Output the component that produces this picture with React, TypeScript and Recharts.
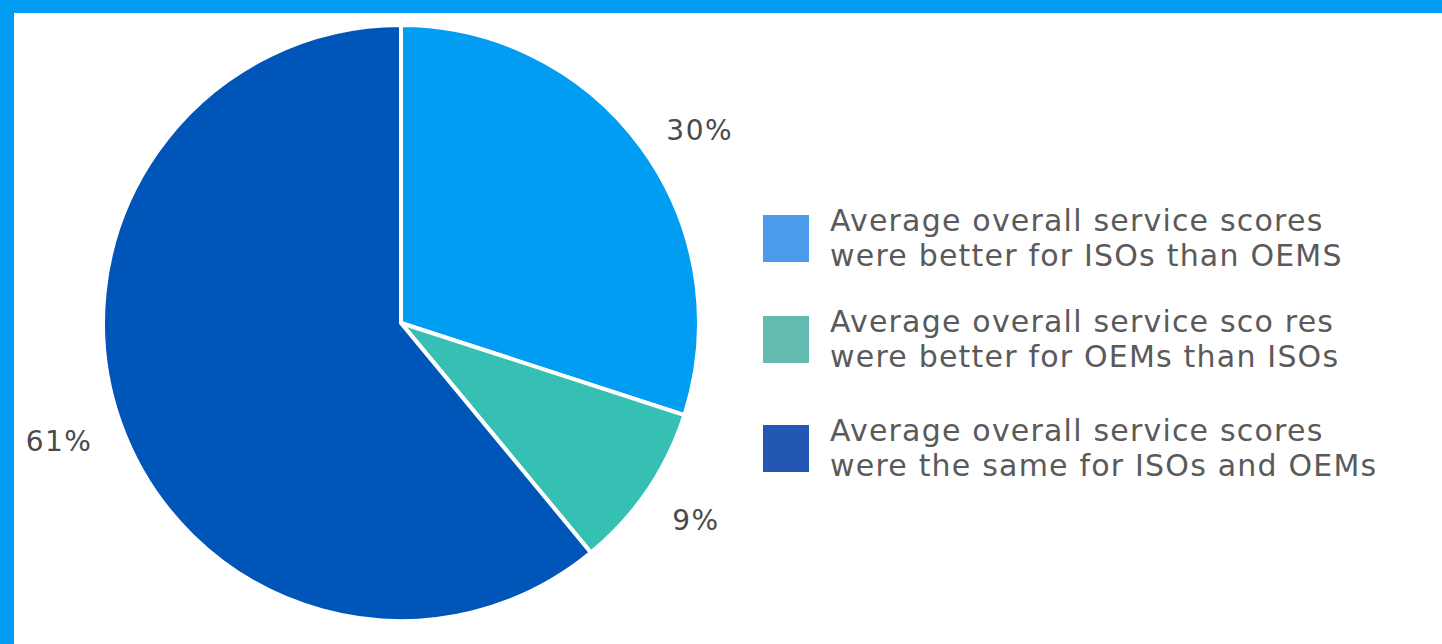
import React from 'react';
import { PieChart, Pie, Cell, Legend } from 'recharts';

const categories = [
  'Average overall service scores|were better for ISOs than OEMS',
  'Average overall service sco res|were better for OEMs than ISOs',
  'Average overall service scores|were the same for ISOs and OEMs',
];
const shares = [30, 9, 61];
const sliceColors = ['#009df2', '#36bfb3', '#0055b8'];
const legendColors = ['#4a9bea', '#62bab0', '#2456b3'];

const data = categories.map((name, i) => ({ name, value: shares[i] }));

const RADIAN = Math.PI / 180;
const FONT = "'DejaVu Sans', sans-serif";

// small vertical nudges so the labels sit where the original puts them
const labelNudge = [0, 13, 7];

const renderLabel = (props: any) => {
  const { cx, cy, midAngle, outerRadius, value, index } = props;
  const r = outerRadius + 30;
  const x = cx + r * Math.cos(-midAngle * RADIAN);
  const y = cy + r * Math.sin(-midAngle * RADIAN) + (labelNudge[index] || 0);
  return (
    <text
      x={x}
      y={y}
      fill="#4a4a4a"
      fontSize={28}
      letterSpacing={1.5}
      fontFamily={FONT}
      textAnchor={x > cx ? 'start' : 'end'}
      dominantBaseline="central"
    >
      {value}%
    </text>
  );
};

// square tops, relative to legend box top (200)
const itemTops = [15, 116, 225];

const renderLegend = () => (
  <div style={{ position: 'relative', height: 300, fontFamily: FONT, color: '#5a5a5a', fontSize: 30, letterSpacing: 1.2 }}>
    {categories.map((c, i) => {
      const lines = c.split('|');
      return (
        <div key={i} style={{ position: 'absolute', left: 0, top: itemTops[i] - 12, display: 'flex', alignItems: 'center' }}>
          <div style={{ width: 46, height: 47, background: legendColors[i], marginRight: 21, flexShrink: 0 }} />
          <div style={{ lineHeight: '35px', whiteSpace: 'nowrap' }}>
            <div>{lines[0]}</div>
            <div>{lines[1]}</div>
          </div>
        </div>
      );
    })}
  </div>
);

const App = () => {
  return (
    <div style={{ position: 'fixed', left: 0, top: 0, width: 1442, height: 644, background: '#fff' }}>
      <div style={{ position: 'absolute', left: 0, top: 0, width: 1442, height: 13, background: '#009df2' }} />
      <div style={{ position: 'absolute', left: 0, top: 0, width: 14, height: 644, background: '#009df2' }} />
      <PieChart width={1442} height={644} margin={{ top: 0, right: 0, bottom: 0, left: 0 }}>
        <Pie
          data={data}
          dataKey="value"
          nameKey="name"
          cx={401}
          cy={323}
          outerRadius={298}
          startAngle={90}
          endAngle={-270}
          stroke="#fff"
          strokeWidth={4}
          label={renderLabel}
          labelLine={false}
          isAnimationActive={false}
        >
          {data.map((d, i) => (
            <Cell key={d.name} fill={sliceColors[i]} />
          ))}
        </Pie>
        <Legend content={renderLegend} wrapperStyle={{ left: 763, top: 200, width: 670 }} />
      </PieChart>
    </div>
  );
};

export default App;
